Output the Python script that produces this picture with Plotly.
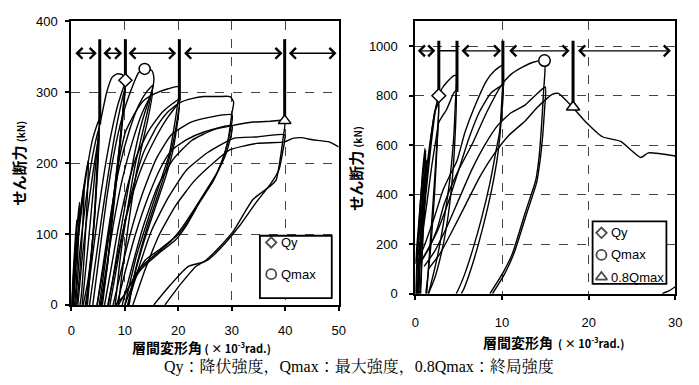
import plotly.graph_objects as go

# ---------------- data : left panel (x: 1e-3 rad, y: kN) ----------------
left_small = [
    [(0, 0), (0.3, 40), (0.7, 90), (1.0, 120), (0.8, 70), (0.5, 20), (0.3, 0)],
    [(0.1, 0), (0.5, 55), (1.0, 105), (1.5, 145), (1.3, 90), (0.9, 30), (0.6, 0)],
    [(0, 0), (0.6, 50), (1.2, 100), (1.8, 140), (2.4, 170), (2.1, 110), (1.6, 50), (1.0, 0)],
    [(0.2, 0), (0.8, 60), (1.5, 115), (2.2, 160), (2.8, 190), (3.2, 205), (2.9, 140), (2.4, 70), (1.8, 10), (1.6, 0)],
    [(0.4, 0), (1.0, 75), (2.0, 140), (3.0, 195), (4.0, 235), (5.2, 262), (4.9, 210), (4.4, 140), (3.8, 80), (3.0, 30), (2.2, 0)],
    [(0.8, 0), (1.5, 70), (2.5, 135), (3.5, 190), (4.5, 230), (5.2, 250), (4.9, 200), (4.4, 130), (3.7, 70), (3.0, 20), (2.6, 0)],
    [(1.2, 0), (2.0, 65), (3.0, 130), (4.0, 185), (5.2, 240), (4.9, 190), (4.3, 120), (3.6, 55), (3.0, 0)],
]
left_amp10 = [
    [(2.0, 0), (3.0, 75), (4.2, 170), (5.2, 250), (5.8, 272), (6.6, 300), (7.6, 321), (8.5, 326), (9.5, 325), (10.1, 317),
     (9.7, 280), (9.0, 225), (8.0, 160), (6.8, 90), (5.5, 30), (4.8, 0)],
    [(2.8, 0), (3.8, 60), (5.0, 130), (6.2, 190), (7.4, 240), (8.6, 280), (10.1, 314),
     (9.6, 270), (8.8, 210), (7.8, 145), (6.6, 75), (5.6, 20), (5.2, 0)],
    [(3.4, 0), (4.4, 55), (5.6, 120), (6.8, 180), (8.0, 235), (9.2, 280), (10.1, 308),
     (9.6, 262), (8.8, 200), (7.8, 130), (6.8, 60), (5.8, 0)],
]
left_amp15 = [
    [(4.0, 0), (5.2, 70), (6.6, 150), (8.0, 215), (9.5, 265), (11.0, 300), (12.6, 328), (13.7, 333), (15.0, 331), (15.4, 322), (15.3, 309),
     (14.1, 280), (13.2, 258), (12.0, 220), (10.5, 160), (9.0, 95), (7.6, 30), (6.9, 0)],
    [(4.8, 0), (6.0, 60), (7.4, 130), (9.0, 195), (10.8, 245), (12.6, 282), (14.2, 302), (15.3, 310),
     (14.3, 275), (13.2, 240), (12.0, 200), (10.6, 140), (9.2, 70), (8.2, 0)],
    [(5.4, 0), (6.6, 55), (8.0, 120), (9.6, 180), (11.4, 230), (13.2, 270), (14.6, 292), (15.2, 300),
     (14.3, 262), (13.2, 225), (12.0, 180), (10.6, 110), (9.4, 40), (8.8, 0)],
]
left_amp20 = [
    [(5.6, 0), (6.8, 60), (7.7, 130), (8.8, 200), (10.1, 244), (11.9, 271), (13.5, 288), (15.6, 298), (18.1, 305), (20.2, 308),
     (19.8, 280), (19.2, 250), (18.3, 212), (16.9, 180), (14.5, 125), (12.2, 70), (10.0, 0)],
    [(6.2, 0), (7.4, 50), (8.8, 110), (10.4, 165), (12.2, 210), (14.4, 245), (17.0, 272), (20.2, 290),
     (19.8, 262), (19.1, 232), (18.0, 198), (16.4, 160), (14.2, 110), (12.0, 50), (10.6, 0)],
    [(6.8, 0), (8.0, 45), (9.5, 100), (11.2, 150), (13.2, 195), (15.5, 232), (17.8, 262), (20.2, 285),
     (19.7, 250), (18.9, 215), (17.6, 180), (15.8, 140), (13.6, 90), (11.6, 35), (10.8, 0)],
]
left_amp30 = [
    [(7.2, 0), (8.4, 50), (9.8, 110), (11.5, 165), (13.5, 215), (16.0, 252), (18.0, 272), (20.2, 285), (22.5, 291), (24.8, 294),
     (27.5, 294), (29.7, 294), (30.35, 286), (30.05, 271),
     (29.3, 232), (28.3, 205), (26.6, 176), (24.2, 149), (21.8, 118), (19.9, 99), (16.8, 80), (13.8, 63), (11.8, 35), (10.0, 0)],
    [(7.8, 0), (9.2, 45), (11.0, 100), (13.2, 155), (15.8, 205), (18.7, 240), (22.4, 258), (26.0, 265), (30.05, 268),
     (29.2, 228), (28.0, 200), (26.3, 172), (24.0, 145), (21.5, 112), (19.5, 92), (16.2, 72), (13.0, 50), (10.2, 18), (8.8, 0)],
    [(8.5, 0), (10.0, 45), (12.0, 100), (14.5, 155), (16.8, 195), (18.7, 218), (21.5, 233), (24.8, 244), (30.05, 253),
     (29.0, 215), (27.5, 190), (25.5, 165), (23.0, 135), (20.8, 110), (18.6, 90), (15.5, 70), (12.6, 50), (10.0, 15), (8.2, 0)],
]
left_amp40 = [
    [(9.5, 0), (11.2, 50), (13.4, 110), (16.0, 165), (19.0, 205), (22.5, 232), (26.5, 247), (30.05, 253), (34.0, 258), (37.0, 259), (39.9, 260),
     (39.6, 235), (39.0, 203), (38.3, 176), (37.1, 167), (34.0, 149), (30.3, 104), (27.5, 80), (24.8, 61), (21.8, 54), (18.5, 28), (15.4, 0)],
    [(10.5, 0), (12.5, 50), (15.0, 105), (18.0, 150), (21.5, 190), (25.5, 215), (30.35, 235), (34.7, 237), (39.9, 240),
     (39.5, 215), (38.8, 190), (37.2, 170), (34.6, 145), (31.5, 112), (28.5, 85), (25.8, 65), (23.4, 55), (20.5, 30), (17.5, 0)],
    [(11.5, 0), (13.8, 50), (16.5, 100), (19.5, 140), (23.0, 175), (26.5, 200), (29.7, 219), (34.7, 228), (39.9, 230),
     (41.4, 235), (43.0, 236), (45.1, 233), (48.2, 230), (50.0, 223)],
]
left_vline_x = [5.3, 10.1, 20.2, 39.9]
left_vline_bottom = [255, 318, 288, 262]
left_vline_top = 375
left_arrow_y = 355
left_arrow_spans = [(0.46, 4.75), (5.7, 9.5), (10.4, 19.6), (20.8, 39.5), (40.4, 49.6)]
left_qy = (10.1, 317)
left_qmax = (13.7, 333)
left_qu = (39.9, 260)
left_xticks = [0, 10, 20, 30, 40, 50]
left_yticks = [0, 100, 200, 300, 400]

# ---------------- data : right panel ----------------
right_small = [
    [(0.0, 0), (0.2, 150), (0.5, 330), (0.8, 480), (1.1, 588), (0.9, 420), (0.6, 220), (0.4, 60), (0.3, 0)],
    [(0.1, 0), (0.3, 180), (0.6, 350), (0.9, 470), (0.75, 300), (0.5, 120), (0.4, 0)],
    [(0.0, 120), (0.3, 250), (0.6, 380), (0.9, 500), (1.2, 580), (1.0, 400), (0.8, 200), (0.6, 40), (0.5, 0)],
    [(0.2, 0), (0.5, 200), (0.9, 400), (1.3, 540), (1.1, 380), (0.8, 180), (0.6, 0)],
]
right_amp3 = [
    [(0.3, 0), (0.7, 220), (1.2, 430), (1.7, 600), (2.2, 730), (2.7, 790), (2.5, 600), (2.2, 400), (1.8, 200), (1.4, 60), (1.2, 0)],
    [(0.1, 130), (0.6, 300), (1.2, 480), (1.8, 640), (2.3, 740), (2.7, 770), (2.4, 560), (2.0, 350), (1.6, 150), (1.3, 0)],
]
right_amp5 = [
    [(0.2, 0), (0.6, 180), (1.2, 400), (1.8, 600), (2.3, 740), (2.7, 800), (3.07, 829), (3.6, 853), (4.4, 880), (4.7, 882),
     (4.6, 760), (4.4, 620), (4.0, 470), (3.4, 320), (2.6, 160), (1.8, 40), (1.5, 0)],
    [(0.1, 130), (0.7, 220), (1.3, 360), (1.9, 520), (2.4, 630), (2.7, 692), (3.6, 744), (4.4, 809), (4.7, 820),
     (4.6, 650), (4.3, 480), (3.8, 320), (3.1, 180), (2.2, 60), (1.5, 0)],
]
right_amp10 = [
    [(0.3, 130), (1.2, 210), (2.2, 310), (3.2, 420), (4.0, 480), (4.8, 537), (5.7, 650), (6.7, 744), (8.2, 860), (9.1, 900), (10.1, 923),
     (10.0, 800), (9.7, 650), (9.3, 576), (8.6, 447), (7.6, 300), (6.7, 188), (5.7, 80), (4.8, 6), (4.7, 0)],
    [(0.1, 100), (1.3, 170), (2.5, 250), (3.7, 360), (5.0, 500), (6.2, 630), (7.4, 735), (8.7, 810), (10.1, 841),
     (9.9, 700), (9.5, 560), (8.8, 420), (7.8, 270), (6.6, 120), (5.6, 20), (5.3, 0)],
]
right_amp15 = [
    [(0.5, 120), (1.5, 180), (2.5, 260), (3.3, 360), (4.8, 486), (6.7, 615), (8.2, 731), (9.9, 841), (11.0, 885), (12.35, 915), (13.6, 935), (14.9, 942),
     (14.8, 820), (14.6, 700), (14.3, 560), (13.9, 460), (12.7, 330), (11.2, 162), (10.1, 84), (8.6, 0)],
    [(1.0, 110), (2.2, 170), (3.5, 260), (5.0, 380), (6.5, 500), (8.0, 600), (9.5, 680), (11.0, 730), (12.7, 763), (13.8, 800), (15.0, 835),
     (14.9, 740), (14.7, 640), (14.4, 540), (14.0, 450), (12.9, 330), (11.4, 165), (10.3, 80), (8.9, 0)],
    [(1.5, 100), (2.8, 160), (4.2, 250), (5.8, 360), (7.4, 470), (9.0, 560), (10.8, 640), (12.7, 699), (14.0, 750), (15.0, 783),
     (15.8, 805), (16.5, 809), (18.2, 751), (19.5, 700), (21.6, 634), (23.7, 615), (26.0, 550), (26.9, 569), (30.0, 556)],
    [(28.5, 0), (29.3, 12), (30.0, 28)],
]
right_vline_x = [2.7, 4.8, 10.1, 18.2]
right_vline_bottom = [800, 815, 840, 755]
right_vline_top = 1022
right_arrow_y = 981
right_arrow_spans = [(0.1, 2.3), (5.15, 9.9), (10.65, 17.8), (18.6, 29.5)]
right_plain_span = (2.7, 4.8)
right_qy = (2.7, 800)
right_qmax = (14.9, 942)
right_qu = (18.2, 754)
right_xticks = [0, 10, 20, 30]
right_yticks = [0, 200, 400, 600, 800, 1000]

caption = "Qy：降伏強度，Qmax：最大強度，0.8Qmax：終局強度"

# ---------------- figure ----------------
W, H = 699, 385
fig = go.Figure()


def add_loops(loops, xa, ya):
    for loop in loops:
        fig.add_trace(go.Scatter(
            x=[p[0] for p in loop], y=[p[1] for p in loop], mode="lines",
            line=dict(color="black", width=1.4, shape="spline", smoothing=0.5),
            xaxis=xa, yaxis=ya, showlegend=False, hoverinfo="skip"))


for grp in (left_small, left_amp10, left_amp15, left_amp20, left_amp30, left_amp40):
    add_loops(grp, "x", "y")
for grp in (right_small, right_amp3, right_amp5, right_amp10, right_amp15):
    add_loops(grp, "x2", "y2")


def add_vlines(xs, bottoms, top, xa, ya):
    vx, vy = [], []
    for x, b in zip(xs, bottoms):
        vx += [x, x, None]
        vy += [top, b, None]
    fig.add_trace(go.Scatter(x=vx, y=vy, mode="lines", line=dict(color="black", width=3),
                             xaxis=xa, yaxis=ya, showlegend=False, hoverinfo="skip"))


add_vlines(left_vline_x, left_vline_bottom, left_vline_top, "x", "y")
add_vlines(right_vline_x, right_vline_bottom, right_vline_top, "x2", "y2")

fig.add_trace(go.Scatter(x=list(right_plain_span), y=[right_arrow_y] * 2, mode="lines",
                         line=dict(color="black", width=1.5), xaxis="x2", yaxis="y2",
                         showlegend=False, hoverinfo="skip"))


def add_markers(qy, qmax, qu, xa, ya, big):
    pts = [(qy, "diamond", 10 * big), (qmax, "circle", 11 * big), (qu, "triangle-up", 11 * big)]
    for (px, py), sym, sz in pts:
        fig.add_trace(go.Scatter(x=[px], y=[py], mode="markers",
                                 marker=dict(symbol=sym, size=sz, color="white",
                                             line=dict(color="black", width=1.5)),
                                 xaxis=xa, yaxis=ya, showlegend=False, hoverinfo="skip"))


add_markers(left_qy, left_qmax, left_qu, "x", "y", 1.0)
add_markers(right_qy, right_qmax, right_qu, "x2", "y2", 1.05)

# arrows
annos = []


def add_arrows(spans, y, xr, yr):
    for a, b in spans:
        annos.append(dict(x=b, y=y, ax=a, ay=y, xref=xr, yref=yr, axref=xr, ayref=yr,
                          text="", showarrow=True, arrowside="end+start",
                          arrowhead=4, startarrowhead=4, arrowsize=1.5, startarrowsize=1.5,
                          arrowwidth=1.4, arrowcolor="black", standoff=0, startstandoff=0))


add_arrows(left_arrow_spans, left_arrow_y, "x", "y")
add_arrows(right_arrow_spans, right_arrow_y, "x2", "y2")

# overlay pixel axis for legends
fig.add_trace(go.Scatter(x=[271.5, 271.5], y=[245, 278], mode="markers",
                         marker=dict(symbol=["diamond", "circle"], size=[8, 10], color="white",
                                     line=dict(color="black", width=1.8)),
                         xaxis="x3", yaxis="y3", showlegend=False, hoverinfo="skip"))
fig.add_trace(go.Scatter(x=[607, 607, 607], y=[235, 258, 281], mode="markers",
                         marker=dict(symbol=["diamond", "circle", "triangle-up"], size=[8, 10, 10], color="white",
                                     line=dict(color="black", width=1.8)),
                         xaxis="x3", yaxis="y3", showlegend=False, hoverinfo="skip"))

shapes = [
    dict(type="rect", xref="x3", yref="y3", x0=260, x1=333, y0=238, y1=303,
         line=dict(color="black", width=1.8), fillcolor="white", layer="below"),
    dict(type="rect", xref="x3", yref="y3", x0=598, x1=673, y0=223, y1=288,
         line=dict(color="black", width=1.8), fillcolor="white", layer="below"),
]

legend_font = dict(family="Liberation Sans, Arial, sans-serif", size=13, color="black")
for txt, px, py in [("Qy", 279, 245), ("Qmax", 279, 278), ("Qy", 615, 235), ("Qmax", 615, 258), ("0.8Qmax", 615, 281)]:
    annos.append(dict(x=px / W, y=1 - py / H, xref="paper", yref="paper", text=txt, showarrow=False,
                      xanchor="left", yanchor="middle", font=legend_font))

cjk = "Noto Sans CJK JP, sans-serif"
ytitle = "<b>せん断力 <span style='font-size:10px'>(kN)</span></b>"
for px, py in [(15, 162), (357, 168)]:
    annos.append(dict(x=px / W, y=1 - py / H, xref="paper", yref="paper", text=ytitle, textangle=-90,
                      showarrow=False, xanchor="center", yanchor="middle",
                      font=dict(family=cjk, size=15, color="black")))
xtitle_l = "<b>層間変形角</b><b><span style='font-size:11px'> ( × 10<sup>-3</sup>rad.)</span></b>"
xtitle_r = "<b>層間変形角</b><b><span style='font-size:11px'>  ( × 10<sup>-3</sup>rad.)</span></b>"
annos.append(dict(x=201 / W, y=1 - 354 / H, xref="paper", yref="paper", text=xtitle_l, showarrow=False,
                  xanchor="center", yanchor="middle", font=dict(family=cjk, size=14, color="black")))
annos.append(dict(x=558 / W, y=1 - 349 / H, xref="paper", yref="paper", text=xtitle_r, showarrow=False,
                  xanchor="center", yanchor="middle", font=dict(family=cjk, size=14, color="black")))
annos.append(dict(x=361 / W, y=1 - 375 / H, xref="paper", yref="paper", text=caption, showarrow=False,
                  xanchor="center", yanchor="middle",
                  font=dict(family="Liberation Serif, Noto Serif CJK JP, Noto Sans CJK JP, serif", size=16, color="black")))

tickfont = dict(family="Liberation Sans, Arial, sans-serif", size=13, color="black")
axis_common = dict(showline=True, mirror=True, linecolor="black", linewidth=2,
                   showgrid=True, gridcolor="#444", griddash="dash", gridwidth=1,
                   zeroline=False, ticks="outside", ticklen=4, tickcolor="black", tickwidth=1.5,
                   tickfont=tickfont, fixedrange=True)

fig.update_layout(
    width=W, height=H, margin=dict(l=0, r=0, t=0, b=0),
    paper_bgcolor="white", plot_bgcolor="rgba(0,0,0,0)", showlegend=False,
    xaxis=dict(domain=[68.5 / W, 340 / W], range=[0, 50], tickvals=left_xticks, anchor="y",
               ticklabelstandoff=8, **axis_common),
    yaxis=dict(domain=[1 - 310 / H, 1 - 15 / H], range=[0, 400], tickvals=left_yticks, anchor="x",
               ticklabelstandoff=5, **axis_common),
    xaxis2=dict(domain=[418 / W, 682 / W], range=[0, 30], tickvals=right_xticks, anchor="y2",
                ticklabelstandoff=12, **axis_common),
    yaxis2=dict(domain=[1 - 298.3 / H, 1 - 15 / H], range=[0, 1100], tickvals=right_yticks, anchor="x2",
                ticklabelstandoff=9, **axis_common),
    xaxis3=dict(domain=[0, 1], range=[0, W], visible=False, anchor="y3", fixedrange=True),
    yaxis3=dict(domain=[0, 1], range=[H, 0], visible=False, anchor="x3", fixedrange=True),
    shapes=shapes, annotations=annos,
)

fig.write_html("out.html")
